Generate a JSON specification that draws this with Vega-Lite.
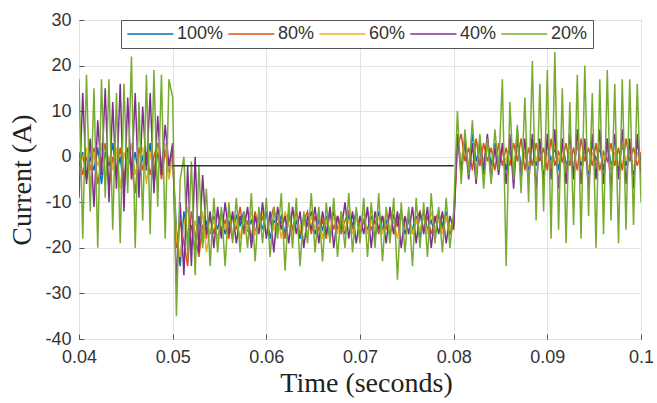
{
  "$schema": "https://vega.github.io/schema/vega-lite/v6.json",
  "width": 562,
  "height": 319,
  "autosize": {"type": "none"},
  "padding": {"left": 79, "top": 20, "right": 16, "bottom": 64},
  "background": "white",
  "config": {
    "view": {"stroke": "#555555", "strokeWidth": 1},
    "axis": {
      "grid": true,
      "gridColor": "#e3e3e3",
      "gridWidth": 1,
      "domain": false,
      "ticks": true,
      "tickSize": -5,
      "tickColor": "#555555",
      "labelFont": "Liberation Sans",
      "labelFontSize": 18,
      "labelColor": "#333333",
      "titleFont": "Liberation Serif",
      "titleFontSize": 28,
      "titleFontWeight": "normal",
      "titleColor": "#222222"
    }
  },
  "datasets": {
    "sim": [
      {"t":0.0400,"a":-2,"b":1,"c":-3,"d":-9,"e":17},
      {"t":0.0404,"a":1,"b":-4,"c":0,"d":14,"e":-18},
      {"t":0.0408,"a":-5,"b":0,"c":2,"d":-6,"e":18},
      {"t":0.0412,"a":0,"b":-3,"c":-6,"d":4,"e":-12},
      {"t":0.0416,"a":-3,"b":2,"c":1,"d":-11,"e":15},
      {"t":0.0420,"a":2,"b":-6,"c":-2,"d":8,"e":-20},
      {"t":0.0424,"a":-6,"b":-1,"c":3,"d":-4,"e":17},
      {"t":0.0428,"a":1,"b":3,"c":-5,"d":15,"e":-9},
      {"t":0.0432,"a":-2,"b":-7,"c":0,"d":-10,"e":17},
      {"t":0.0436,"a":3,"b":0,"c":-3,"d":12,"e":-16},
      {"t":0.0440,"a":-4,"b":-3,"c":2,"d":-7,"e":14},
      {"t":0.0444,"a":0,"b":2,"c":-7,"d":16,"e":-19},
      {"t":0.0448,"a":-7,"b":-5,"c":1,"d":-12,"e":16},
      {"t":0.0452,"a":2,"b":1,"c":-2,"d":13,"e":-8},
      {"t":0.0456,"a":-3,"b":-2,"c":3,"d":-5,"e":22},
      {"t":0.0460,"a":1,"b":-8,"c":-4,"d":14,"e":-20},
      {"t":0.0464,"a":-5,"b":2,"c":0,"d":-9,"e":12},
      {"t":0.0468,"a":0,"b":-3,"c":2,"d":11,"e":-14},
      {"t":0.0472,"a":-2,"b":1,"c":-6,"d":-3,"e":18},
      {"t":0.0476,"a":3,"b":-4,"c":1,"d":14,"e":-17},
      {"t":0.0480,"a":-6,"b":0,"c":-3,"d":-8,"e":19},
      {"t":0.0484,"a":1,"b":3,"c":2,"d":9,"e":-11},
      {"t":0.0488,"a":-3,"b":-5,"c":-1,"d":-4,"e":18},
      {"t":0.0492,"a":2,"b":1,"c":3,"d":7,"e":-18},
      {"t":0.0496,"a":-4,"b":-2,"c":-5,"d":-2,"e":17},
      {"t":0.0500,"a":0,"b":1,"c":0,"d":3,"e":13},
      {"t":0.0504,"a":-16,"b":-20,"c":-18,"d":-28,"e":-35},
      {"t":0.0508,"a":-24,"b":-14,"c":-22,"d":-10,"e":-5},
      {"t":0.0512,"a":-12,"b":-19,"c":-15,"d":-26,"e":0},
      {"t":0.0516,"a":-18,"b":-24,"c":-11,"d":-2,"e":-22},
      {"t":0.0520,"a":-15,"b":-12,"c":-20,"d":-24,"e":-1},
      {"t":0.0524,"a":-21,"b":-17,"c":-14,"d":0,"e":-26},
      {"t":0.0528,"a":-13,"b":-22,"c":-18,"d":-21,"e":-2},
      {"t":0.0532,"a":-19,"b":-15,"c":-12,"d":-4,"e":-20},
      {"t":0.0536,"a":-14,"b":-18,"c":-21,"d":-17,"e":-7},
      {"t":0.0540,"a":-17,"b":-13,"c":-16,"d":-12,"e":-24},
      {"t":0.0544,"a":-13,"b":-17,"c":-14,"d":-20,"e":-9},
      {"t":0.0548,"a":-16,"b":-12,"c":-18,"d":-11,"e":-21},
      {"t":0.0552,"a":-12,"b":-16,"c":-13,"d":-18,"e":-11},
      {"t":0.0556,"a":-17,"b":-14,"c":-16,"d":-10,"e":-24},
      {"t":0.0560,"a":-14,"b":-18,"c":-12,"d":-17,"e":-10},
      {"t":0.0564,"a":-18,"b":-13,"c":-17,"d":-12,"e":-19},
      {"t":0.0568,"a":-13,"b":-16,"c":-14,"d":-19,"e":-9},
      {"t":0.0572,"a":-15,"b":-11,"c":-18,"d":-13,"e":-21},
      {"t":0.0576,"a":-12,"b":-17,"c":-13,"d":-16,"e":-12},
      {"t":0.0580,"a":-16,"b":-14,"c":-16,"d":-11,"e":-20},
      {"t":0.0584,"a":-14,"b":-18,"c":-12,"d":-20,"e":-8},
      {"t":0.0588,"a":-17,"b":-12,"c":-17,"d":-13,"e":-23},
      {"t":0.0592,"a":-13,"b":-16,"c":-15,"d":-17,"e":-11},
      {"t":0.0596,"a":-16,"b":-13,"c":-12,"d":-10,"e":-19},
      {"t":0.0600,"a":-12,"b":-17,"c":-17,"d":-18,"e":-9},
      {"t":0.0604,"a":-18,"b":-14,"c":-14,"d":-12,"e":-22},
      {"t":0.0608,"a":-14,"b":-11,"c":-16,"d":-21,"e":-11},
      {"t":0.0612,"a":-15,"b":-16,"c":-13,"d":-11,"e":-18},
      {"t":0.0616,"a":-13,"b":-14,"c":-18,"d":-16,"e":-8},
      {"t":0.0620,"a":-17,"b":-18,"c":-12,"d":-13,"e":-25},
      {"t":0.0624,"a":-12,"b":-13,"c":-15,"d":-19,"e":-10},
      {"t":0.0628,"a":-16,"b":-16,"c":-17,"d":-11,"e":-20},
      {"t":0.0632,"a":-14,"b":-12,"c":-13,"d":-17,"e":-9},
      {"t":0.0636,"a":-18,"b":-17,"c":-16,"d":-12,"e":-24},
      {"t":0.0640,"a":-13,"b":-14,"c":-14,"d":-20,"e":-12},
      {"t":0.0644,"a":-15,"b":-12,"c":-17,"d":-13,"e":-19},
      {"t":0.0648,"a":-12,"b":-17,"c":-13,"d":-16,"e":-8},
      {"t":0.0652,"a":-17,"b":-13,"c":-16,"d":-11,"e":-21},
      {"t":0.0656,"a":-14,"b":-16,"c":-12,"d":-19,"e":-11},
      {"t":0.0660,"a":-16,"b":-14,"c":-18,"d":-12,"e":-23},
      {"t":0.0664,"a":-13,"b":-18,"c":-14,"d":-17,"e":-10},
      {"t":0.0668,"a":-18,"b":-12,"c":-16,"d":-11,"e":-19},
      {"t":0.0672,"a":-12,"b":-16,"c":-13,"d":-20,"e":-9},
      {"t":0.0676,"a":-16,"b":-13,"c":-17,"d":-13,"e":-22},
      {"t":0.0680,"a":-14,"b":-17,"c":-12,"d":-16,"e":-12},
      {"t":0.0684,"a":-17,"b":-14,"c":-16,"d":-10,"e":-20},
      {"t":0.0688,"a":-13,"b":-12,"c":-14,"d":-18,"e":-8},
      {"t":0.0692,"a":-15,"b":-16,"c":-17,"d":-12,"e":-21},
      {"t":0.0696,"a":-12,"b":-13,"c":-13,"d":-19,"e":-11},
      {"t":0.0700,"a":-17,"b":-17,"c":-16,"d":-13,"e":-19},
      {"t":0.0704,"a":-14,"b":-14,"c":-12,"d":-17,"e":-9},
      {"t":0.0708,"a":-16,"b":-12,"c":-17,"d":-11,"e":-22},
      {"t":0.0712,"a":-13,"b":-16,"c":-14,"d":-20,"e":-10},
      {"t":0.0716,"a":-18,"b":-14,"c":-16,"d":-12,"e":-20},
      {"t":0.0720,"a":-12,"b":-17,"c":-13,"d":-16,"e":-8},
      {"t":0.0724,"a":-16,"b":-13,"c":-17,"d":-13,"e":-23},
      {"t":0.0728,"a":-14,"b":-16,"c":-12,"d":-19,"e":-11},
      {"t":0.0732,"a":-17,"b":-12,"c":-16,"d":-11,"e":-19},
      {"t":0.0736,"a":-13,"b":-17,"c":-14,"d":-17,"e":-9},
      {"t":0.0740,"a":-15,"b":-14,"c":-18,"d":-12,"e":-27},
      {"t":0.0744,"a":-12,"b":-12,"c":-13,"d":-20,"e":-10},
      {"t":0.0748,"a":-17,"b":-16,"c":-16,"d":-13,"e":-21},
      {"t":0.0752,"a":-14,"b":-13,"c":-12,"d":-17,"e":-11},
      {"t":0.0756,"a":-16,"b":-17,"c":-17,"d":-11,"e":-24},
      {"t":0.0760,"a":-13,"b":-14,"c":-14,"d":-19,"e":-9},
      {"t":0.0764,"a":-18,"b":-12,"c":-16,"d":-12,"e":-20},
      {"t":0.0768,"a":-12,"b":-16,"c":-13,"d":-17,"e":-10},
      {"t":0.0772,"a":-16,"b":-13,"c":-17,"d":-11,"e":-22},
      {"t":0.0776,"a":-14,"b":-17,"c":-12,"d":-20,"e":-8},
      {"t":0.0780,"a":-17,"b":-14,"c":-16,"d":-13,"e":-19},
      {"t":0.0784,"a":-13,"b":-12,"c":-14,"d":-17,"e":-11},
      {"t":0.0788,"a":-15,"b":-16,"c":-17,"d":-12,"e":-21},
      {"t":0.0792,"a":-12,"b":-13,"c":-13,"d":-19,"e":-9},
      {"t":0.0796,"a":-17,"b":-17,"c":-16,"d":-13,"e":-20},
      {"t":0.0800,"a":-14,"b":-15,"c":-13,"d":-16,"e":-12},
      {"t":0.0804,"a":4,"b":2,"c":3,"d":5,"e":10},
      {"t":0.0808,"a":-2,"b":5,"c":-1,"d":-4,"e":-6},
      {"t":0.0812,"a":3,"b":-1,"c":4,"d":4,"e":6},
      {"t":0.0816,"a":-3,"b":2,"c":-2,"d":-5,"e":-4},
      {"t":0.0820,"a":5,"b":-3,"c":3,"d":3,"e":8},
      {"t":0.0824,"a":-1,"b":4,"c":-3,"d":-6,"e":-5},
      {"t":0.0828,"a":2,"b":-2,"c":2,"d":4,"e":5},
      {"t":0.0832,"a":-4,"b":3,"c":-1,"d":-3,"e":-7},
      {"t":0.0836,"a":4,"b":-1,"c":3,"d":5,"e":4},
      {"t":0.0840,"a":-2,"b":2,"c":-4,"d":-5,"e":-6},
      {"t":0.0844,"a":3,"b":-3,"c":2,"d":2,"e":6},
      {"t":0.0848,"a":-1,"b":3,"c":-2,"d":-4,"e":-3},
      {"t":0.0852,"a":2,"b":-2,"c":1,"d":3,"e":17},
      {"t":0.0856,"a":-3,"b":2,"c":-1,"d":-6,"e":-24},
      {"t":0.0860,"a":2,"b":-2,"c":3,"d":5,"e":12},
      {"t":0.0864,"a":-4,"b":3,"c":-2,"d":-7,"e":-5},
      {"t":0.0868,"a":3,"b":-1,"c":2,"d":6,"e":7},
      {"t":0.0872,"a":-2,"b":4,"c":-3,"d":-5,"e":-8},
      {"t":0.0876,"a":1,"b":-3,"c":1,"d":4,"e":13},
      {"t":0.0880,"a":-3,"b":2,"c":-2,"d":-6,"e":-10},
      {"t":0.0884,"a":4,"b":-2,"c":3,"d":5,"e":21},
      {"t":0.0888,"a":-2,"b":3,"c":-1,"d":-7,"e":-14},
      {"t":0.0892,"a":2,"b":-1,"c":2,"d":4,"e":16},
      {"t":0.0896,"a":-4,"b":2,"c":-3,"d":-6,"e":-12},
      {"t":0.0900,"a":3,"b":-3,"c":1,"d":5,"e":19},
      {"t":0.0904,"a":-1,"b":4,"c":-2,"d":-5,"e":-18},
      {"t":0.0908,"a":2,"b":-2,"c":3,"d":6,"e":23},
      {"t":0.0912,"a":-3,"b":1,"c":-1,"d":-7,"e":-16},
      {"t":0.0916,"a":4,"b":-1,"c":2,"d":4,"e":15},
      {"t":0.0920,"a":-2,"b":3,"c":-3,"d":-6,"e":-19},
      {"t":0.0924,"a":1,"b":-2,"c":1,"d":5,"e":12},
      {"t":0.0928,"a":-3,"b":2,"c":-2,"d":-5,"e":-15},
      {"t":0.0932,"a":3,"b":-3,"c":3,"d":6,"e":18},
      {"t":0.0936,"a":-2,"b":4,"c":-1,"d":-6,"e":-18},
      {"t":0.0940,"a":2,"b":-1,"c":2,"d":4,"e":20},
      {"t":0.0944,"a":-4,"b":2,"c":-3,"d":-7,"e":-13},
      {"t":0.0948,"a":3,"b":-2,"c":1,"d":5,"e":14},
      {"t":0.0952,"a":-1,"b":3,"c":-2,"d":-5,"e":-20},
      {"t":0.0956,"a":2,"b":-3,"c":3,"d":6,"e":17},
      {"t":0.0960,"a":-3,"b":1,"c":-1,"d":-6,"e":-17},
      {"t":0.0964,"a":4,"b":-1,"c":2,"d":4,"e":19},
      {"t":0.0968,"a":-2,"b":3,"c":-3,"d":-7,"e":-14},
      {"t":0.0972,"a":1,"b":-2,"c":1,"d":5,"e":16},
      {"t":0.0976,"a":-3,"b":2,"c":-2,"d":-5,"e":-19},
      {"t":0.0980,"a":3,"b":-3,"c":3,"d":6,"e":17},
      {"t":0.0984,"a":-2,"b":4,"c":-1,"d":-6,"e":-16},
      {"t":0.0988,"a":2,"b":-1,"c":2,"d":4,"e":17},
      {"t":0.0992,"a":-4,"b":2,"c":-3,"d":-7,"e":-15},
      {"t":0.0996,"a":3,"b":-2,"c":1,"d":5,"e":16},
      {"t":0.1000,"a":-1,"b":1,"c":-2,"d":-4,"e":-10}
    ],
    "ref": [
      {"t":0.05,"v":-2},
      {"t":0.08,"v":-2}
    ]
  },
  "layer": [
    {
      "data": {"name": "sim"},
      "transform": [{"fold": ["a","b","c","d","e"], "as": ["series","value"]}],
      "mark": {"type": "line", "strokeWidth": 1.5, "clip": true},
      "encoding": {
        "x": {
          "field": "t", "type": "quantitative",
          "scale": {"domain": [0.04, 0.1], "nice": false, "zero": false},
          "axis": {
            "title": "Time (seconds)",
            "values": [0.04,0.05,0.06,0.07,0.08,0.09,0.1],
            "format": ".2~f",
            "labelPadding": 14,
            "titleY": 30,
            "titleX": 287,
            "labelFlush": false
          }
        },
        "y": {
          "field": "value", "type": "quantitative",
          "scale": {"domain": [-40, 30], "nice": false, "zero": false},
          "axis": {
            "title": "Current (A)",
            "values": [-40,-30,-20,-10,0,10,20,30],
            "labelExpr": "toString(datum.value)",
            "labelPadding": 13,
            "titleX": -43,
            "labelFlush": false
          }
        },
        "color": {
          "field": "series", "type": "nominal",
          "scale": {
            "domain": ["a","b","c","d","e"],
            "range": ["#0072BD","#D95319","#EDB120","#7E2F8E","#77AC30"]
          },
          "legend": {
            "title": null,
            "orient": "none",
            "direction": "horizontal",
            "legendX": 42,
            "legendY": 0,
            "symbolType": "M-1,0H5",
            "symbolSize": 236,
            "symbolStrokeWidth": 1.5,
            "labelFont": "Liberation Sans",
            "labelFontSize": 18,
            "labelColor": "#333333",
            "labelOffset": 33,
            "columnPadding": 1,
            "padding": 5,
            "strokeColor": "#555555",
            "fillColor": "white",
            "labelExpr": "{'a':'100%','b':'80%','c':'60%','d':'40%','e':'20%'}[datum.label]"
          }
        }
      }
    },
    {
      "data": {"name": "ref"},
      "mark": {"type": "line", "color": "#333333", "strokeWidth": 1.5},
      "encoding": {
        "x": {"field": "t", "type": "quantitative"},
        "y": {"field": "v", "type": "quantitative"}
      }
    }
  ]
}
